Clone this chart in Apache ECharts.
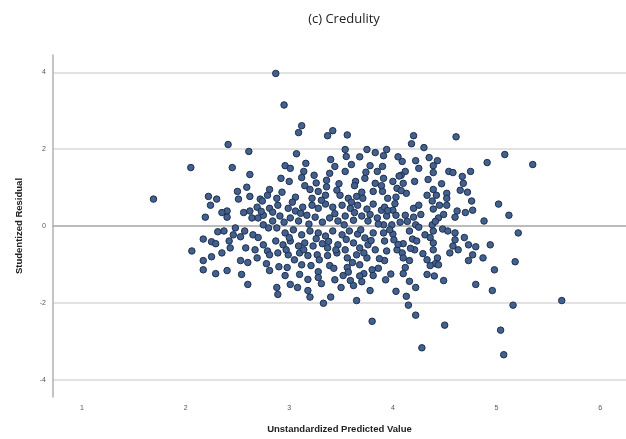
<!DOCTYPE html>
<html>
<head>
<meta charset="utf-8">
<script src="https://cdn.jsdelivr.net/npm/echarts@6/dist/echarts.min.js"></script>
<style>
html,body{margin:0;padding:0;background:#fff;}
#chart{width:626px;height:439px;}
</style>
</head>
<body>
<div id="chart"></div>
<script>
// Unstandardized predicted values (x) and studentized residuals (y)
const predicted = [
1.69,2.05,2.87,2.41,2.61,2.45,2.62,2.50,2.59,2.51,2.62,2.22,2.30,2.24,2.72,2.81,2.88,2.19,2.40,2.40,
2.62,2.69,2.64,2.70,2.75,2.81,2.75,2.80,2.84,2.37,2.46,2.57,2.65,2.53,2.17,2.25,2.29,2.42,2.43,2.06,
2.35,2.17,2.25,2.17,2.29,2.40,2.53,2.54,2.60,2.58,2.67,2.69,2.75,2.79,2.81,2.81,2.87,2.88,2.89,2.90,
2.79,2.74,2.84,2.95,
3.12,3.09,3.37,3.42,3.56,3.07,3.54,3.55,3.40,3.75,3.83,2.96,3.01,3.16,3.14,3.54,3.78,3.85,2.92,3.00,
3.12,3.24,3.39,3.36,3.64,3.73,3.83,2.93,3.06,3.20,3.28,3.35,3.46,3.49,3.57,3.65,3.71,3.81,2.89,2.99,
3.06,3.13,3.22,3.28,3.35,3.42,3.51,3.59,3.66,3.75,3.81,3.89,2.91,3.01,3.09,3.17,3.25,3.32,3.39,3.47,
3.54,3.62,3.70,3.76,3.85,2.88,2.96,3.04,3.12,3.20,3.28,3.35,3.42,3.51,3.58,3.66,3.73,3.81,2.94,3.01,
3.09,3.15,3.23,3.32,3.37,3.47,3.54,3.62,3.68,3.76,3.83,2.89,2.99,3.10,3.18,3.27,3.37,3.46,3.56,3.65,
3.75,2.98,3.12,3.21,3.28,3.39,3.56,3.68,3.80,2.96,3.10,3.18,3.28,3.52,3.59,3.72,3.81,3.01,3.08,3.18,
3.50,3.78,3.33,3.65,3.80,
4.20,4.18,4.30,3.94,3.91,4.09,4.22,4.35,4.43,4.25,4.39,4.12,4.39,3.91,4.00,4.08,4.10,4.21,4.34,3.90,
4.04,4.13,4.39,4.42,3.95,4.03,4.38,3.92,4.00,4.20,4.25,4.39,4.45,3.94,4.03,4.12,4.20,4.44,3.91,3.99,
4.07,4.22,4.38,3.91,4.00,4.16,4.25,4.31,4.39,3.92,4.01,4.10,4.19,4.23,4.39,3.94,4.04,4.09,4.21,4.39,
3.92,4.10,4.16,4.33,4.43,4.41,4.12,4.36,4.44,4.10,4.33,4.16,4.13,4.15,4.22,4.28,
4.61,5.08,4.91,5.35,4.54,4.58,4.75,4.67,4.68,4.65,4.72,4.52,4.52,4.76,5.02,4.52,4.77,4.62,4.60,5.12,
4.88,4.48,4.53,4.60,5.21,4.60,4.58,4.63,4.73,4.80,4.94,4.77,4.73,4.87,5.18,4.98,4.49,4.80,4.96,5.63,
5.16,4.50,5.04,5.07,
3.03,3.11,3.19,3.26,3.31,3.38,3.44,3.45,3.53,3.55,3.60,3.61,3.63,3.69,3.70,3.72,3.78,3.79,3.86,3.87,
3.95,3.97,4.02,4.05,4.08,4.14,4.17,4.27,4.29,4.33,4.36,4.41,3.00,3.05,3.14,3.22,3.29,3.36,3.43,3.48,
3.57,3.63,3.68,3.74,3.86,3.89,3.98,4.06,2.95,2.97,3.15,3.26,3.44,3.60,3.68,3.90,4.05,4.47,4.49,4.55,
4.69,4.70,2.70,2.73,2.56,2.48,2.35,2.31,2.60,2.78,3.31,3.44,3.62,3.93,4.03,3.20,3.40,3.70,4.22,4.40
];
const residual = [
0.70,1.52,3.97,2.12,1.94,1.52,1.34,0.90,1.01,0.70,0.77,0.77,0.70,0.54,0.70,0.95,0.72,0.23,0.39,0.23,
0.39,0.49,0.21,0.21,0.28,0.46,0.03,-0.05,0.13,-0.13,-0.23,-0.13,-0.23,-0.28,-0.34,-0.41,-0.46,-0.39,-0.57,-0.65,
-0.70,-0.90,-0.80,-1.14,-1.24,-1.16,-0.90,-1.26,-1.52,-0.57,-0.62,-0.83,-0.49,-0.65,-0.75,-1.16,-0.39,-1.60,-1.78,-1.06,
0.80,0.65,0.36,3.15,
2.61,2.43,2.35,2.48,2.37,1.88,1.99,1.81,1.73,1.99,1.91,1.57,1.50,1.63,1.42,1.42,1.57,1.42,1.24,1.16,
1.26,1.32,1.37,1.19,1.16,1.24,1.11,0.88,0.75,0.95,0.90,0.80,0.93,0.80,0.72,0.77,0.72,0.90,0.54,0.46,
0.39,0.49,0.54,0.46,0.57,0.49,0.54,0.46,0.54,0.44,0.57,0.41,0.26,0.21,0.13,0.28,0.23,0.10,0.21,0.13,
0.26,0.15,0.26,0.13,0.21,-0.05,-0.18,-0.10,-0.23,-0.13,-0.18,-0.26,-0.13,-0.23,-0.13,-0.21,-0.31,-0.18,-0.49,-0.39,
-0.52,-0.44,-0.52,-0.46,-0.57,-0.49,-0.62,-0.44,-0.57,-0.49,-0.62,-0.70,-0.75,-0.70,-0.77,-0.75,-0.77,-0.70,-0.83,-0.75,
-0.83,-1.08,-1.01,-1.03,-1.19,-1.03,-1.08,-1.01,-1.14,-1.29,-1.26,-1.39,-1.34,-1.29,-1.42,-1.24,-1.29,-1.52,-1.60,-1.68,
-1.60,-1.68,-2.01,-1.94,-2.48,
2.35,2.14,2.04,1.99,1.83,1.68,1.70,1.78,1.70,1.50,1.57,1.42,1.39,1.24,1.16,1.32,1.11,1.16,1.21,0.90,
0.98,0.85,0.95,0.80,0.72,0.75,0.65,0.49,0.41,0.46,0.54,0.44,0.54,0.26,0.28,0.28,0.23,0.21,0.03,0.03,
0.10,0.03,0.03,-0.18,-0.21,-0.13,-0.03,-0.23,-0.13,-0.39,-0.36,-0.46,-0.34,-0.39,-0.44,-0.65,-0.62,-0.70,-0.62,-0.62,
-0.90,-0.83,-0.90,-0.88,-0.83,-0.98,-1.08,-1.03,-1.01,-1.24,-1.26,-1.44,-1.83,-2.06,-2.32,-3.17,
2.32,1.86,1.65,1.60,1.42,1.39,1.42,1.29,1.11,0.93,0.88,0.85,0.72,0.65,0.57,0.54,0.41,0.39,0.23,0.28,
0.13,-0.08,-0.13,-0.18,-0.18,-0.36,-0.52,-0.62,-0.49,-0.54,-0.49,-0.75,-0.90,-0.83,-0.93,-1.14,-1.42,-1.52,-1.68,-1.94,
-2.06,-2.58,-2.71,-3.35,
0.62,0.33,0.05,-0.33,0.67,-0.40,0.32,-0.62,0.03,-0.35,0.62,-0.95,0.35,-0.10,0.88,-0.70,0.30,-0.38,0.05,-0.85,
0.40,-0.10,0.58,-0.48,0.92,0.12,-0.58,0.30,-0.72,0.80,-0.30,0.12,-0.30,-0.88,-0.62,0.72,-0.88,1.02,-1.10,1.10,
-1.20,1.05,-1.30,1.40,-1.10,1.05,-1.25,1.30,0.10,-0.62,1.05,1.12,1.55,1.60,1.80,1.55,1.80,1.10,0.30,-0.70,
-0.30,0.35,-0.30,0.38,0.35,-0.05,0.35,-0.15,-0.95,-0.98,-1.50,-1.40,-1.55,-1.40,-1.70,-1.85,-1.85,-1.45,-1.60,-1.30
];
const xRange = [0.72, 6.25];
const yRange = [-4.45, 4.45];
const titleText = '(c) Credulity';
const xName = 'Unstandardized Predicted Value';
const yName = 'Studentized Residual';

const points = predicted.map((v, i) => [v, residual[i]]);

const chart = echarts.init(document.getElementById('chart'), null, {renderer: 'canvas'});
chart.setOption({
  animation: false,
  backgroundColor: '#ffffff',
  title: {
    text: titleText,
    left: 339, top: 8, textAlign: 'center',
    textStyle: {fontFamily: 'Open Sans', fontSize: 13, fontWeight: 'normal', color: '#222'}
  },
  grid: {left: 53, right: 0, top: 55, height: 345},
  xAxis: {
    type: 'value', min: xRange[0], max: xRange[1], splitNumber: 5,
    name: xName, nameLocation: 'middle', nameGap: 27,
    nameTextStyle: {fontFamily: 'Liberation Sans', fontSize: 9.5, fontWeight: 'bold', color: '#222'},
    axisLine: {show: true, lineStyle: {color: '#b0b0b0', width: 1.5}},
    axisTick: {show: false},
    splitLine: {show: false},
    axisLabel: {showMinLabel: false, showMaxLabel: false, fontSize: 7, color: '#555', margin: 8, fontFamily: 'Liberation Sans'}
  },
  yAxis: {
    type: 'value', min: yRange[0], max: yRange[1], splitNumber: 4,
    name: yName, nameLocation: 'middle', nameGap: 29, nameRotate: 90,
    nameTextStyle: {fontFamily: 'Liberation Sans', fontSize: 9.5, fontWeight: 'bold', color: '#222'},
    axisLine: {show: true, lineStyle: {color: '#b0b0b0', width: 1.5}},
    axisTick: {show: false},
    splitLine: {show: true, showMinLine: false, showMaxLine: false, lineStyle: {color: '#e2e2e2', width: 2}},
    axisLabel: {showMinLabel: false, showMaxLabel: false, fontSize: 7, color: '#555', margin: 7, fontFamily: 'Liberation Sans'}
  },
  series: [{
    type: 'scatter',
    data: points,
    symbol: 'circle',
    symbolSize: 6.5,
    itemStyle: {color: '#42618f', borderColor: '#1f2f4d', borderWidth: 1, opacity: 1}
  }]
});
</script>
</body>
</html>
